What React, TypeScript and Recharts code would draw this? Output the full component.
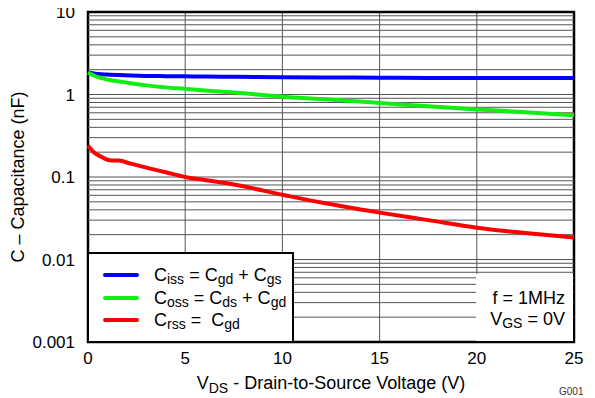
import React from "react";
import { LineChart, Line, XAxis, YAxis, CartesianGrid, ReferenceLine, ReferenceArea } from "recharts";

const vds = [0, 0.3, 0.7, 1.1, 1.6, 2.2, 3, 4, 5, 6, 7.5, 10, 12, 15, 17.5, 20, 22.5, 25];
const ciss = [1.85, 1.8, 1.76, 1.74, 1.72, 1.7, 1.68, 1.67, 1.66, 1.65, 1.64, 1.62, 1.61, 1.6, 1.59, 1.59, 1.58, 1.58];
const coss = [1.85, 1.7, 1.58, 1.5, 1.44, 1.37, 1.29, 1.22, 1.17, 1.12, 1.06, 0.94, 0.88, 0.79, 0.72, 0.66, 0.61, 0.56];
const crss = [0.24, 0.2, 0.175, 0.16, 0.158, 0.145, 0.13, 0.114, 0.1, 0.092, 0.081, 0.061, 0.049, 0.037, 0.03, 0.0243, 0.021, 0.0185];

const xTicks = [0, 5, 10, 15, 20, 25];
const yTicks = [0.001, 0.01, 0.1, 1, 10];
const yTickLabels = ["0.001", "0.01", "0.1", "1", "10"];
const minorY = [
  0.002, 0.003, 0.004, 0.005, 0.006, 0.007, 0.008, 0.009,
  0.02, 0.03, 0.04, 0.05, 0.06, 0.07, 0.08, 0.09,
  0.2, 0.3, 0.4, 0.5, 0.6, 0.7, 0.8, 0.9,
  2, 3, 4, 5, 6, 7, 8, 9,
];

const data = vds.map((v, i) => ({ vds: v, ciss: ciss[i], coss: coss[i], crss: crss[i] }));

const FONT = "'Liberation Sans', Arial, sans-serif";
const GRID = "#555";

const XLabel = (props: any) => {
  const vb = props.viewBox;
  const cx = vb.x + vb.width / 2;
  return (
    <text x={cx} y={389} textAnchor="middle" fontSize={18} fontFamily={FONT} fill="#000">
      <tspan>V</tspan>
      <tspan fontSize={14} dy={4}>DS</tspan>
      <tspan dy={-4}> - Drain-to-Source Voltage (V)</tspan>
    </text>
  );
};

const YLabel = (props: any) => {
  const vb = props.viewBox;
  const cy = vb.y + vb.height / 2;
  return (
    <text x={18} y={cy} transform={`rotate(-90, 18, ${cy})`} textAnchor="middle" dominantBaseline="central" fontSize={18} fontFamily={FONT} fill="#000">
      C – Capacitance (nF)
    </text>
  );
};

const legendItems = [
  { color: "#0000ff", main: ["C", "iss", " = C", "gd", " + C", "gs"] },
  { color: "#11ee11", main: ["C", "oss", " = C", "ds", " + C", "gd"] },
  { color: "#ff0000", main: ["C", "rss", " =  C", "gd"] },
];

export default function App() {
  return (
    <div style={{ position: "relative", width: 595, height: 398, margin: "-8px 0 0 -8px", fontFamily: FONT, background: "#fff" }}>
      <LineChart width={595} height={398} data={data} margin={{ top: 12, right: 21, bottom: 0, left: 0 }}>
        <CartesianGrid stroke={GRID} strokeWidth={1} vertical={true} horizontal={true} />
        {minorY.map((v) => (
          <ReferenceLine key={v} y={v} stroke={GRID} strokeWidth={1} />
        ))}
        <XAxis
          dataKey="vds"
          type="number"
          domain={[0, 25]}
          ticks={xTicks}
          height={56}
          tickLine={false}
          axisLine={false}
          tickSize={0}
          tickMargin={10}
          tick={{ fontSize: 17, fill: "#000", fontFamily: FONT }}
          label={<XLabel />}
        />
        <YAxis
          type="number"
          scale="log"
          domain={[0.001, 10]}
          ticks={yTicks}
          allowDataOverflow
          width={88}
          tickLine={false}
          axisLine={false}
          tickSize={0}
          tickMargin={13}
          tickFormatter={(v: number) => yTickLabels[yTicks.indexOf(v)] ?? String(v)}
          tick={{ fontSize: 17, fill: "#000", fontFamily: FONT }}
          label={<YLabel />}
        />
        <ReferenceArea x1={0} x2={25} y1={0.001} y2={10} fill="none" stroke="#000" strokeWidth={2.5} ifOverflow="visible" />
        <Line dataKey="ciss" stroke="#0000ff" strokeWidth={4} dot={false} type="monotone" isAnimationActive={false} />
        <Line dataKey="coss" stroke="#11ee11" strokeWidth={4} dot={false} type="monotone" isAnimationActive={false} />
        <Line dataKey="crss" stroke="#ff0000" strokeWidth={4} dot={false} type="monotone" isAnimationActive={false} />
        <text x={559} y={395} fontSize={10} fontFamily={FONT} fill="#333">G001</text>
      </LineChart>
      <div
        style={{
          position: "absolute", left: 87, top: 252, width: 207, height: 91, boxSizing: "border-box",
          border: "2px solid #000", background: "#fff",
        }}
      >
        {legendItems.map((it, i) => (
          <div key={i} style={{ position: "absolute", left: 0, top: 10 + i * 22.5, height: 22, width: 200 }}>
            <div style={{ position: "absolute", left: 14, top: 9, width: 36, height: 4, background: it.color, borderRadius: 2 }} />
            <div style={{ position: "absolute", left: 65, top: 0, fontSize: 18, lineHeight: "22px", whiteSpace: "pre", color: "#000" }}>
              {it.main.map((s, j) =>
                j % 2 === 1 ? (
                  <span key={j} style={{ fontSize: 14, position: "relative", top: 3 }}>{s}</span>
                ) : (
                  <span key={j}>{s}</span>
                )
              )}
            </div>
          </div>
        ))}
      </div>
      <div style={{ position: "absolute", left: 476, top: 274, width: 97, height: 67, background: "#fff" }}>
        <div style={{ position: "absolute", right: 8, top: 14, fontSize: 18, lineHeight: "20px", whiteSpace: "nowrap", color: "#000" }}>f = 1MHz</div>
        <div style={{ position: "absolute", right: 8, top: 35, fontSize: 18, lineHeight: "20px", whiteSpace: "nowrap", color: "#000" }}>
          V<span style={{ fontSize: 14, position: "relative", top: 3 }}>GS</span> = 0V
        </div>
      </div>
    </div>
  );
}
